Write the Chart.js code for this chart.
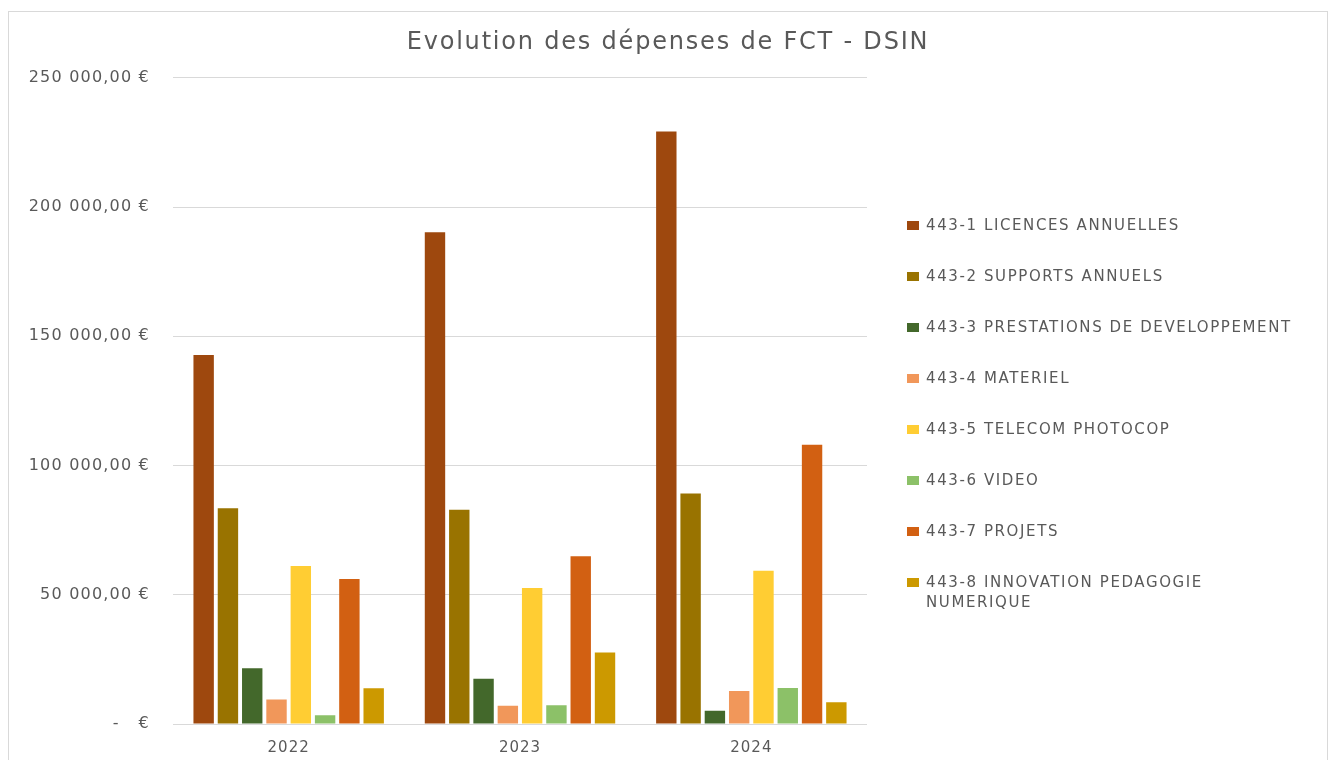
<!DOCTYPE html>
<html>
<head>
<meta charset="utf-8">
<script src="https://cdn.jsdelivr.net/npm/chart.js@4/dist/chart.umd.min.js"></script>
<style>
    html, body { margin: 0; padding: 0; background: #fff; overflow: hidden; }
    #frame {
        position: absolute; left: 8px; top: 11px;
        width: 1318px; height: 760px;
        border: 1px solid #d9d9d9;
    }
    #wrap { position: absolute; left: 0; top: 0; width: 1318px; height: 748px; }
    #legend { position: absolute; left: 0; top: 0; width: 1318px; height: 748px; font-family: "DejaVu Sans", sans-serif; }
    .lg-item { position: absolute; left: 898px; display: flex; align-items: flex-start; }
    .lg-box { width: 12px; height: 9px; margin-top: 6px; margin-right: 7px; flex: none; }
    .lg-text { font-size: 15px; line-height: 20px; letter-spacing: 1.6px; color: #595959; max-width: 380px; }
</style>
</head>
<body>
<div id="frame">
    <div id="wrap"><canvas id="chart"></canvas></div>
    <div id="legend"></div>
</div>
<script>
// --- données ---
const years = ['2022', '2023', '2024'];
const seriesNames = [
    '443-1 LICENCES ANNUELLES',
    '443-2 SUPPORTS ANNUELS',
    '443-3 PRESTATIONS DE DEVELOPPEMENT',
    '443-4 MATERIEL',
    '443-5 TELECOM PHOTOCOP',
    '443-6 VIDEO',
    '443-7 PROJETS',
    '443-8 INNOVATION PEDAGOGIE NUMERIQUE'
];
const licences = [142800, 190200, 229200];
const supports = [83500, 82900, 89200];
const prestations = [21600, 17500, 5100];
const materiel = [9500, 7100, 12800];
const telecom = [61100, 52600, 59300];
const video = [3400, 7300, 13900];
const projets = [56100, 64900, 108000];
const innovation = [13800, 27700, 8400];
const yTicks = [0, 50000, 100000, 150000, 200000, 250000];

const seriesValues = [licences, supports, prestations, materiel, telecom, video, projets, innovation];
const colors = ['#9E480E', '#997300', '#43682B', '#F1975A', '#FFCD33', '#8CC168', '#D26012', '#CC9900'];

const FONT = 'DejaVu Sans';

function formatEuro(v) {
    if (v === 0) return '-\u00a0\u00a0\u00a0€';
    const s = String(v).replace(/\B(?=(\d{3})+(?!\d))/g, ' ');
    return s + ',00 €';
}

// espacement des lettres (le texte de référence est très large)
function withSpacing(obj, method, spacing) {
    const orig = obj[method];
    obj[method] = function (...args) {
        const ctx = this.ctx;
        ctx.save();
        ctx.letterSpacing = spacing;
        orig.apply(this, args);
        ctx.restore();
    };
}

const spacingPlugin = {
    id: 'spacing',
    afterLayout(chart) {
        if (chart.$spaced) return;
        chart.$spaced = true;
        withSpacing(chart.titleBlock, 'draw', '1.8px');
        withSpacing(chart.scales.y, 'drawLabels', '1.2px');
        withSpacing(chart.scales.x, 'drawLabels', '1px');
    }
};

const datasets = seriesNames.map((name, i) => ({
    label: name,
    data: seriesValues[i],
    backgroundColor: colors[i],
    borderWidth: 0,
    categoryPercentage: 0.84,
    barPercentage: 0.84
}));

const chart = new Chart(document.getElementById('chart').getContext('2d'), {
    type: 'bar',
    data: { labels: years, datasets: datasets },
    plugins: [spacingPlugin],
    options: {
        responsive: true,
        maintainAspectRatio: false,
        animation: false,
        layout: { padding: 0 },
        plugins: {
            legend: { display: false },
            tooltip: { enabled: false },
            title: {
                display: true,
                text: 'Evolution des dépenses de FCT - DSIN',
                color: '#595959',
                font: { family: FONT, size: 24, weight: 'normal' },
                padding: { top: 16, bottom: 21 }
            }
        },
        scales: {
            x: {
                grid: { display: false },
                border: { display: false },
                ticks: {
                    color: '#595959',
                    font: { family: FONT, size: 15 },
                    padding: 7
                },
                afterFit: scale => { scale.height = 36; }
            },
            y: {
                min: yTicks[0],
                max: yTicks[yTicks.length - 1],
                afterBuildTicks: scale => { scale.ticks = yTicks.map(v => ({ value: v })); },
                grid: { color: '#d9d9d9', lineWidth: 1, drawTicks: false },
                border: { display: false },
                ticks: {
                    color: '#595959',
                    font: { family: FONT, size: 16 },
                    padding: 23,
                    callback: v => formatEuro(v)
                },
                afterFit: scale => { scale.width = 164; }
            },
            // axe vide à droite : réserve la place de la légende
            side: {
                type: 'linear',
                position: 'right',
                grid: { display: false },
                border: { display: false },
                ticks: { display: false },
                afterFit: scale => { scale.width = 460; }
            }
        }
    }
});

// --- légende à droite ---
const legendEl = document.getElementById('legend');
chart.data.datasets.forEach((ds, i) => {
    const item = document.createElement('div');
    item.className = 'lg-item';
    item.style.top = (203 + i * 51) + 'px';
    item.innerHTML = `<span class="lg-box" style="background:${ds.backgroundColor}"></span><span class="lg-text">${ds.label}</span>`;
    legendEl.appendChild(item);
});
</script>
</body>
</html>
